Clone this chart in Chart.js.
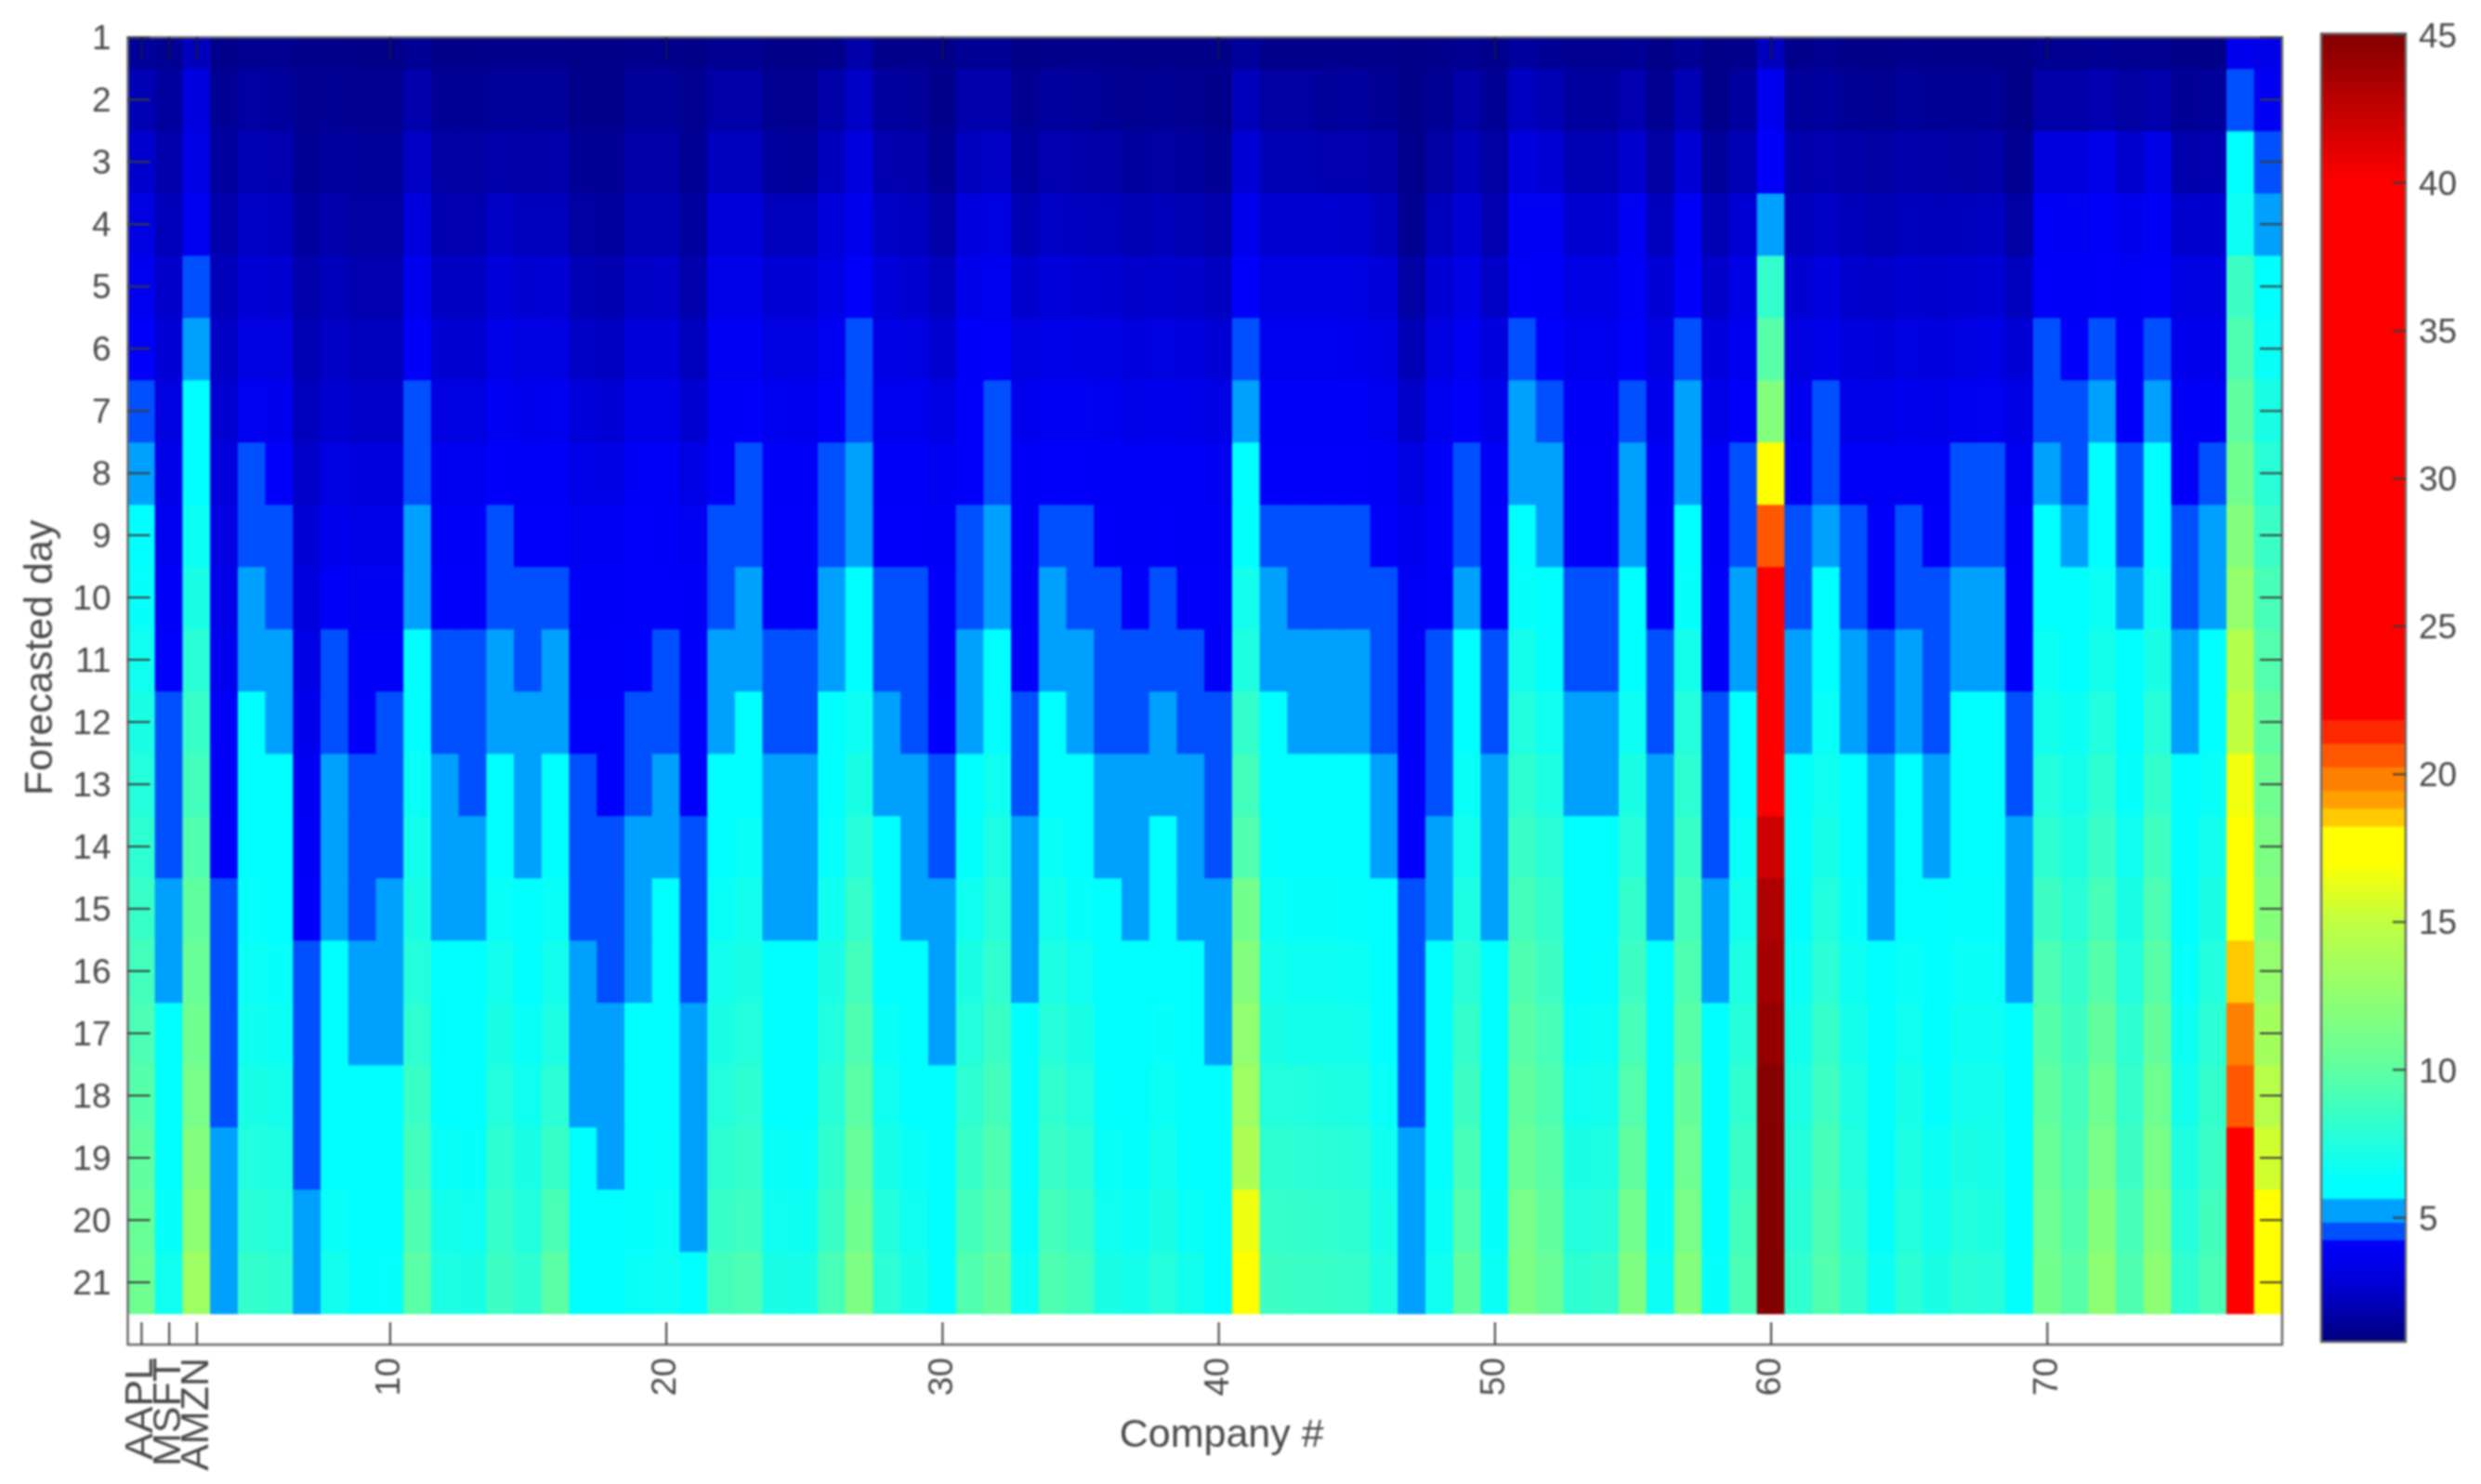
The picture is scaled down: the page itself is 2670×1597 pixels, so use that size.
<!DOCTYPE html>
<html>
<head>
<meta charset="utf-8">
<style>
  html, body { margin: 0; padding: 0; background: #fff; }
  #wrap { position: relative; width: 2670px; height: 1597px; overflow: hidden; }
  canvas { position: absolute; top: 0; filter: blur(1px); }
  #heatmap { left: 0; }
  #colorbar { left: 2490px; }
</style>
<script src="https://cdn.jsdelivr.net/npm/chart.js@4"></script>
</head>
<body>
<div id="wrap">
  <canvas id="heatmap" width="2490" height="1597"></canvas>
  <canvas id="colorbar" width="180" height="1597"></canvas>
</div>
<script>
// forecasted days (rows) and companies (columns)
const days = [1,2,3,4,5,6,7,8,9,10,11,12,13,14,15,16,17,18,19,20,21];
const companyTicks = [1,2,3,10,20,30,40,50,60,70];
const companyTickNames = ['AAPL','MSFT','AMZN','10','20','30','40','50','60','70'];
const colorbarTicks = [5,10,15,20,25,30,35,40,45];

// one list per company, day 1 to day 21
const companyValues = [
  [1.4,2,2.6,3.2,3.7,4.1,4.6,5.2,6,6.4,6.8,7.2,7.6,8,8.4,8.8,9.2,9.6,10,10.4,10.8],
  [1.2,1.5,1.8,2.1,2.5,2.8,3.1,3.4,3.7,4,4.2,4.6,4.6,4.6,5.2,5.2,5.8,6,6.2,6.4,6.8],
  [2.2,3,3.3,3.7,4.6,5.2,5.8,6.2,6.6,7.2,7.8,8.4,8.8,9.4,10,10.4,10.8,11.2,11.8,12.4,13.2],
  [1.1,1.3,1.5,1.8,2.1,2.4,2.7,3,3.2,3.4,3.7,4,4.1,4.2,4.6,4.6,4.6,4.6,5.2,5.2,5.4],
  [1.2,1.6,2,2.4,2.8,3.2,3.8,4.6,4.6,5.2,5.2,5.8,6,6.2,6.4,6.6,6.8,7.2,7.5,7.8,8.2],
  [1.2,1.5,1.9,2.3,2.7,3.1,3.6,4.1,4.6,4.6,5.2,5.2,5.8,6,6.2,6.4,6.6,7,7.3,7.6,8],
  [1.1,1.2,1.3,1.5,1.8,2,2.2,2.5,2.8,3,3.3,3.6,3.8,4,4.1,4.6,4.6,4.6,4.6,5.2,5.2],
  [1.1,1.3,1.5,1.8,2.1,2.4,2.7,3.2,3.6,4,4.6,4.6,5.2,5.2,5.2,5.7,5.9,6,6.2,6.5,6.9],
  [1,1.2,1.4,1.6,1.9,2.2,2.5,3,3.4,3.8,4,4.1,4.6,4.6,4.6,5.2,5.2,5.8,6,6.1,6.3],
  [1,1.2,1.4,1.6,1.9,2.2,2.5,3,3.4,3.8,4,4.6,4.6,4.6,5.2,5.2,5.2,5.8,6,6.1,6.4],
  [1.3,1.8,2.4,3,3.6,4.1,4.6,4.6,5.2,5.2,5.8,6.2,6.5,6.9,7.2,7.6,8,8.5,8.9,9.3,9.8],
  [1,1.3,1.6,1.9,2.3,2.7,3.2,3.7,4,4.1,4.6,4.6,5.2,5.2,5.2,5.7,6,6.2,6.5,7,7.3],
  [1,1.3,1.6,1.9,2.3,2.7,3.2,3.7,4,4.1,4.6,4.6,4.6,5.2,5.2,5.8,6,6.2,6.4,6.8,7.2],
  [1.1,1.4,1.8,2.4,2.9,3.4,3.8,4.1,4.6,4.6,5.2,5.2,5.8,6.2,6.5,6.9,7.2,7.6,8,8.3,8.6],
  [1.1,1.4,1.7,2.2,2.7,3.2,3.6,4,4.1,4.6,4.6,5.2,5.2,5.2,5.8,6.2,6.5,6.8,7.2,7.5,8],
  [1.1,1.4,1.8,2.2,2.8,3.2,3.7,4,4.1,4.6,5.2,5.2,5.8,6.2,6.5,6.9,7.3,7.9,8.4,9.1,9.8],
  [1,1.1,1.3,1.6,2,2.4,2.9,3.4,3.8,4,4.1,4.2,4.6,4.6,4.6,5.2,5.2,5.2,5.7,5.9,6],
  [1,1.1,1.3,1.5,1.9,2.3,2.8,3.3,3.8,4,4.1,4.2,4.2,4.6,4.6,4.6,5.2,5.2,5.2,5.7,5.9],
  [1.1,1.4,1.7,2,2.4,2.9,3.4,3.9,4.1,4.1,4.2,4.6,4.6,5.2,5.2,5.2,5.7,5.9,6.1,6.3,6.5],
  [1.1,1.4,1.7,2,2.5,2.9,3.4,3.9,4,4.1,4.6,4.6,5.2,5.2,5.7,5.9,6,6.1,6.3,6.5,6.7],
  [1,1.2,1.3,1.5,1.8,2.2,2.7,3.3,3.8,4,4.1,4.2,4.2,4.6,4.6,4.6,5.2,5.2,5.2,5.2,5.7],
  [1.2,1.7,2.2,2.9,3.4,3.8,4,4.1,4.6,4.6,5.2,5.2,5.8,6.2,6.5,6.9,7.2,7.6,8,8.4,8.9],
  [1.2,1.7,2.2,2.9,3.4,3.8,4.1,4.6,4.6,5.2,5.2,5.8,6.2,6.5,6.9,7.2,7.6,8,8.3,8.7,9.2],
  [1,1.2,1.5,2.2,2.8,3.2,3.7,4,4.1,4.1,4.6,4.6,5.2,5.2,5.2,5.8,6,6.2,6.5,6.8,7.2],
  [1,1.2,1.4,2.2,2.8,3.2,3.6,4,4.1,4.1,4.6,4.6,5.2,5.2,5.2,5.7,5.9,6.1,6.4,6.7,7.1],
  [1.1,1.7,2.2,2.9,3.3,3.8,4.1,4.6,4.6,5.2,5.2,5.8,6.1,6.4,6.8,7.2,7.5,7.8,8.1,8.5,9],
  [1.7,2.4,3,3.6,4.1,4.6,4.6,5.2,5.2,5.8,6.2,6.7,7.2,7.7,8.3,8.8,9.3,9.8,10.3,10.8,11.5],
  [1.1,1.5,1.9,2.4,2.9,3.3,3.7,4,4.1,4.6,4.6,5.2,5.2,5.8,6,6.2,6.5,6.8,7.1,7.5,7.9],
  [1.1,1.4,1.8,2.3,2.7,3.2,3.7,4,4.1,4.6,4.6,4.6,5.2,5.2,5.2,5.8,6,6.2,6.5,6.8,7.1],
  [1,1.1,1.3,1.7,2.2,2.7,3.3,3.8,4,4.1,4.1,4.2,4.6,4.6,5.2,5.2,5.2,5.7,5.9,6,6.2],
  [1.3,1.8,2.2,3,3.5,4,4.1,4.1,4.6,4.6,5.2,5.2,5.8,6.3,6.8,7.2,7.6,8,8.4,8.9,9.4],
  [1.3,1.8,2.4,3.2,3.7,4.1,4.6,4.6,5.2,5.2,5.8,6.3,6.8,7.3,7.7,8.1,8.5,8.9,9.3,9.7,10.2],
  [1,1.2,1.5,2,2.6,3.1,3.6,4,4.1,4.1,4.2,4.6,4.6,5.2,5.2,5.2,5.7,5.9,6.1,6.3,6.6],
  [1.1,1.5,1.9,2.4,2.9,3.4,3.8,4.1,4.6,5.2,5.2,5.8,6.2,6.5,6.9,7.3,7.7,8.1,8.5,8.9,9.3],
  [1.1,1.4,1.8,2.3,2.8,3.3,3.8,4.1,4.6,4.6,5.2,5.2,5.8,6.1,6.4,6.8,7.2,7.6,8,8.4,8.8],
  [1.1,1.3,1.7,2.2,2.7,3.2,3.7,4,4.1,4.6,4.6,4.6,5.2,5.2,5.7,5.9,6.1,6.3,6.5,6.8,7.2],
  [1,1.2,1.5,2,2.5,3,3.5,3.9,4,4.1,4.6,4.6,5.2,5.2,5.2,5.7,5.9,6.1,6.3,6.6,7],
  [1,1.3,1.6,2.1,2.6,3.1,3.6,4,4.1,4.6,4.6,5.2,5.2,5.8,6,6.2,6.4,6.6,6.9,7.2,7.6],
  [1,1.2,1.5,2,2.5,3,3.5,3.9,4,4.1,4.6,4.6,5.2,5.2,5.2,5.7,5.9,6,6.2,6.5,6.9],
  [1,1.1,1.3,1.8,2.3,2.8,3.3,3.8,4,4.1,4.1,4.6,4.6,4.6,5.2,5.2,5.2,5.7,5.9,6,6.2],
  [1.4,2.1,2.8,3.6,4.1,4.6,5.2,5.8,6.3,6.9,7.4,8.2,8.8,9.4,11,11.8,12.5,13.2,14,16.5,17],
  [1.1,1.6,2,2.7,3.3,3.7,4,4.1,4.6,5.2,5.2,5.8,6,6.3,6.6,6.9,7.2,7.6,8,8.3,8.6],
  [1.1,1.6,2,2.7,3.3,3.7,4,4.1,4.6,4.6,5.2,5.2,5.8,6.1,6.4,6.7,7,7.5,7.9,8.2,8.5],
  [1.1,1.4,1.9,2.7,3.3,3.7,4,4.1,4.6,4.6,5.2,5.2,5.8,6.1,6.4,6.7,7,7.4,7.8,8.1,8.4],
  [1.1,1.5,1.9,2.6,3.2,3.6,4,4.1,4.6,4.6,5.2,5.2,5.8,6,6.3,6.6,6.9,7.3,7.7,8,8.3],
  [1.1,1.3,1.7,2.3,2.9,3.3,3.7,4,4.1,4.6,4.6,4.6,5.2,5.2,5.7,6,6.2,6.5,6.8,7.1,7.4],
  [1,1,1.1,1.2,1.6,2,2.5,3.2,3.6,3.9,4,4.1,4.2,4.2,4.6,4.6,4.6,4.6,5.2,5.2,5.2],
  [1.1,1.3,1.6,2.2,2.8,3.2,3.7,4,4.1,4.1,4.6,4.6,4.6,5.2,5.2,5.8,6,6.1,6.3,6.5,6.8],
  [1.2,1.7,2.1,2.8,3.3,3.8,4.1,4.6,4.6,5.2,5.8,6.2,6.5,6.9,7.3,7.8,8.2,8.6,9,9.5,10],
  [1.1,1.3,1.6,1.9,2.4,3,3.5,4,4.1,4.1,4.6,4.6,5.2,5.2,5.2,5.7,5.9,6,6.2,6.4,6.6],
  [1.5,2.3,3,3.8,4.1,4.6,5.2,5.2,5.8,6.4,7,7.5,8,8.5,8.9,9.3,9.7,10,10.4,11.2,11.4],
  [1.3,2,2.8,3.8,4,4.2,4.6,5.2,5.2,5.8,6.3,6.8,7.3,7.8,8.2,8.6,9,9.3,9.7,10,10.4],
  [1.2,1.5,2,2.7,3.3,3.7,4,4.1,4.1,4.6,4.6,5.2,5.2,5.8,6,6.2,6.5,6.8,7.2,7.6,8],
  [1.2,1.5,2,2.7,3.3,3.7,4,4.1,4.1,4.6,4.6,5.2,5.2,5.8,6,6.3,6.6,6.9,7.3,7.7,8.2],
  [1.3,1.9,2.6,3.8,4,4.2,4.6,5.2,5.2,5.8,6.2,6.7,7.2,7.7,8.2,8.6,9,9.5,10,10.9,11.6],
  [1,1.2,1.6,2.2,2.8,3.2,3.6,4,4.1,4.1,4.6,4.6,5.2,5.2,5.2,5.7,5.9,6.1,6.2,6.4,6.7],
  [1.3,2,2.8,3.9,4.1,4.6,5.2,5.2,5.8,6.4,7,7.6,8,8.4,8.9,9.3,9.7,10.2,10.7,11.2,11.8],
  [1,1.1,1.4,2,2.5,3,3.5,3.9,4,4.1,4.1,4.6,4.6,4.6,5.2,5.2,5.7,5.9,6,6.2,6.4],
  [1.1,1.5,2,2.8,3.3,3.7,4.1,4.6,4.6,5.2,5.2,5.8,6.2,6.5,6.9,7.3,7.7,8.1,8.5,8.8,9.1],
  [2.2,3.6,4.1,5.3,8.2,9.7,11.8,17,20.8,24,28,32,37,42,43.3,43.7,44.3,44.9,45,45,45],
  [1.1,1.4,1.8,2.2,2.7,3.1,3.7,4.1,4.6,4.6,5.2,5.2,5.8,6.1,6.3,6.6,6.9,7.3,7.6,7.8,8.1],
  [1.2,1.5,1.9,2.4,3,3.5,4.6,4.6,5.2,5.8,6.2,6.5,6.8,7.1,7.5,7.9,8.3,8.7,9,9.2,9.4],
  [1,1.3,1.7,2.1,2.6,3,3.5,4,4.6,4.6,5.2,5.2,5.8,6.1,6.4,6.7,7,7.3,7.6,7.9,8.2],
  [1,1.2,1.6,2,2.5,2.9,3.4,3.9,4.1,4.1,4.6,4.6,5.2,5.2,5.2,5.7,5.9,6,6.2,6.3,6.6],
  [1.1,1.4,1.8,2.2,2.7,3.1,3.6,4,4.6,4.6,5.2,5.2,5.8,6,6.2,6.5,6.8,7.1,7.3,7.6,7.9],
  [1,1.3,1.7,2.1,2.6,3,3.5,3.9,4.1,4.6,4.6,4.6,5.2,5.2,5.7,5.9,6.1,6.3,6.6,6.9,7.2],
  [1,1.3,1.6,2.2,2.7,3.2,3.7,4.6,4.6,5.2,5.2,5.8,6,6.1,6.3,6.5,6.7,6.9,7.2,7.5,7.8],
  [1,1.3,1.7,2.3,2.8,3.3,3.8,4.6,4.6,5.2,5.2,5.8,6,6.1,6.3,6.5,6.7,6.9,7.1,7.4,7.7],
  [1,1,1.2,1.6,2.2,2.8,3.3,3.7,4,4.1,4.1,4.6,4.6,5.2,5.2,5.2,5.7,5.9,6,6.1,6.3],
  [1.2,1.7,3,3.9,4.1,4.6,4.6,5.2,5.8,6.2,6.6,7,7.5,8,8.6,9.2,9.6,10,10.4,10.7,11],
  [1.2,1.7,3,3.8,4,4.1,4.6,4.6,5.2,5.8,6.2,6.6,7,7.4,7.8,8.2,8.6,8.9,9.1,9.4,9.7],
  [1.3,1.9,3.4,4,4.1,4.6,5.2,5.8,6.2,6.6,7,7.5,8,8.5,9,9.6,10.2,10.8,11.3,11.9,12.4],
  [1.2,1.6,2.6,3.6,3.9,4.1,4.1,4.6,4.6,5.2,5.8,6.1,6.4,6.8,7.2,7.6,8,8.3,8.6,9,9.3],
  [1.2,1.8,3.3,3.9,4.1,4.6,5.2,5.8,6.2,6.7,7.2,7.7,8.2,8.7,9.2,9.7,10.2,10.8,11.2,11.8,12.3],
  [1,1.3,1.8,2.6,3.2,3.6,3.9,4.1,4.6,4.6,5.2,5.2,5.8,6,6.2,6.4,6.7,7,7.4,7.7,8.1],
  [1,1.4,1.9,2.6,3.2,3.6,4,4.6,5.2,5.2,5.8,6.2,6.5,6.9,7.2,7.5,7.9,8.2,8.5,8.8,9.1],
  [3.6,4.6,6,6.7,8.6,9.3,10,10.8,11.8,12.7,14.3,15,16.6,17.2,17.6,18.4,19.6,20.8,24,26,28],
  [3.4,3.8,4.6,5.2,6,6.5,7.2,7.8,8.5,9,9.5,10,10.8,11.5,12,12.7,13.5,14.5,15.5,17,17.4]
];
const companies = companyValues.map((_, i) => i + 1);

// the colormap is jet with uneven spacing, repeated values are hard steps
const colorStops = [
  [0.8, [0,0,128]], [2.2, [0,0,190]], [3, [0,0,222]], [4.25, [0,0,255]],
  [4.25, [0,80,255]], [4.9, [0,80,255]],
  [4.9, [0,160,255]], [5.6, [0,160,255]],
  [5.6, [0,255,255]], [6.2, [0,255,255]],
  [10, [96,255,160]], [15, [192,255,64]], [17, [255,255,0]], [18.1, [255,255,0]],
  [18.1, [255,200,0]], [18.7, [255,200,0]],
  [18.7, [255,160,0]], [19.4, [255,160,0]],
  [19.4, [255,128,0]], [20.2, [255,128,0]],
  [20.2, [255,88,0]], [21, [255,88,0]],
  [21, [255,40,0]], [21.7, [255,40,0]],
  [21.7, [255,0,0]], [40, [255,0,0]], [45.1, [128,0,0]]
];

function valueColor(v) {
  for (let i = 1; i < colorStops.length; i++) {
    const [hi, c1] = colorStops[i];
    if (v < hi) {
      const [lo, c0] = colorStops[i - 1];
      const t = hi > lo ? Math.max(0, (v - lo) / (hi - lo)) : 0;
      const c = c0.map((a, k) => Math.round(a + (c1[k] - a) * t));
      return `rgb(${c[0]},${c[1]},${c[2]})`;
    }
  }
  return 'rgb(128,0,0)';
}

const boxColor = '#6a6a6a';
const tickColor = '#3c3c3c';
const topTickColor = '#14144a';
const textColor = '#4a4a4a';
const fontFamily = '"Liberation Sans", Arial, sans-serif';

// matlab style box with ticks pointing inwards, chart.js only draws them outwards
const insideTicks = {
  id: 'insideTicks',
  afterDraw(chart, args, opts) {
    const { ctx, chartArea: a, scales } = chart;
    ctx.save();
    ctx.strokeStyle = boxColor;
    ctx.lineWidth = 2.5;
    ctx.strokeRect(a.left, a.top, a.right - a.left, a.bottom - a.top);
    ctx.lineWidth = 2;
    ctx.strokeStyle = tickColor;
    ctx.beginPath();
    (opts.xTicks || []).forEach(t => {
      const x = scales.x.getPixelForValue(t - 1);
      ctx.moveTo(x, a.bottom); ctx.lineTo(x, a.bottom - opts.len);
    });
    (opts.yTicks || []).forEach(t => {
      const y = scales.y.getPixelForValue(t);
      if (opts.left !== false) { ctx.moveTo(a.left, y); ctx.lineTo(a.left + opts.len, y); }
      ctx.moveTo(a.right, y); ctx.lineTo(a.right - opts.len, y);
    });
    ctx.stroke();
    ctx.strokeStyle = topTickColor;
    ctx.beginPath();
    (opts.xTicks || []).forEach(t => {
      const x = scales.x.getPixelForValue(t - 1);
      ctx.moveTo(x, a.top); ctx.lineTo(x, a.top + opts.len);
    });
    ctx.stroke();
    ctx.restore();
  }
};

// one floating bar per cell, one dataset per day
const heatmapSets = days.map((day, d) => ({
  label: 'Day ' + day,
  data: companies.map(() => [day - 0.5, day + 0.51]),
  backgroundColor: companyValues.map(col => valueColor(col[d])),
  borderWidth: 0,
  barPercentage: 1.04,
  categoryPercentage: 1,
  grouped: false
}));

new Chart(document.getElementById('heatmap'), {
  type: 'bar',
  data: { labels: companies, datasets: heatmapSets },
  plugins: [insideTicks],
  options: {
    responsive: false,
    animation: false,
    layout: { padding: { left: 0, top: 36, right: 34, bottom: 0 } },
    plugins: {
      legend: { display: false },
      tooltip: { enabled: false },
      insideTicks: { len: 24, xTicks: companyTicks, yTicks: days }
    },
    scales: {
      x: {
        grid: { display: false, drawTicks: false },
        border: { display: false },
        // rotated labels would otherwise pull the plot in from the right
        afterFit: s => { s.height = 150; s.paddingLeft = 0; s.paddingRight = 0; },
        ticks: {
          autoSkip: false,
          minRotation: 90,
          maxRotation: 90,
          padding: 14,
          color: textColor,
          font: ctx => ({ family: fontFamily, size: ctx.index < 3 ? 43 : 37 }),
          callback: (v, i) => {
            const k = companyTicks.indexOf(i + 1);
            return k >= 0 ? companyTickNames[k] : '';
          }
        },
        title: {
          display: true,
          text: '   Company #',
          color: textColor,
          padding: { top: 0, bottom: 26 },
          font: { family: fontFamily, size: 43 }
        }
      },
      y: {
        reverse: true,
        min: 1,
        max: 22,
        grid: { display: false, drawTicks: false },
        border: { display: false },
        afterFit: s => { s.width = 137.5; },
        afterBuildTicks: s => { s.ticks = days.map(d => ({ value: d })); },
        ticks: {
          padding: 18,
          labelOffset: 3,
          color: textColor,
          font: { family: fontFamily, size: 37 }
        },
        title: {
          display: true,
          text: '      Forecasted day',
          color: textColor,
          padding: { top: 18, bottom: 0 },
          font: { family: fontFamily, size: 43 }
        }
      }
    }
  }
});

// colorbar, same colormap sampled in small steps
const colorbarLevels = [];
for (let v = 0.8; v < 45.1; v += 0.2) colorbarLevels.push(v);

new Chart(document.getElementById('colorbar'), {
  type: 'bar',
  data: {
    labels: [''],
    datasets: colorbarLevels.map(v => ({
      data: [[v, v + 0.22]],
      backgroundColor: valueColor(v + 0.1),
      borderWidth: 0,
      barPercentage: 1,
      categoryPercentage: 1,
      grouped: false
    }))
  },
  plugins: [insideTicks],
  options: {
    responsive: false,
    animation: false,
    layout: { padding: { left: 8, top: 36, right: 0, bottom: 153 } },
    plugins: {
      legend: { display: false },
      tooltip: { enabled: false },
      insideTicks: { len: 14, yTicks: colorbarTicks, left: false }
    },
    scales: {
      x: { display: false },
      y: {
        position: 'right',
        min: 0.8,
        max: 45.05,
        grid: { display: false, drawTicks: false },
        border: { display: false },
        afterFit: s => { s.width = 81; },
        afterBuildTicks: s => { s.ticks = colorbarTicks.map(v => ({ value: v })); },
        ticks: {
          padding: 14,
          labelOffset: 3,
          color: textColor,
          font: { family: fontFamily, size: 37 }
        }
      }
    }
  }
});
</script>
</body>
</html>
